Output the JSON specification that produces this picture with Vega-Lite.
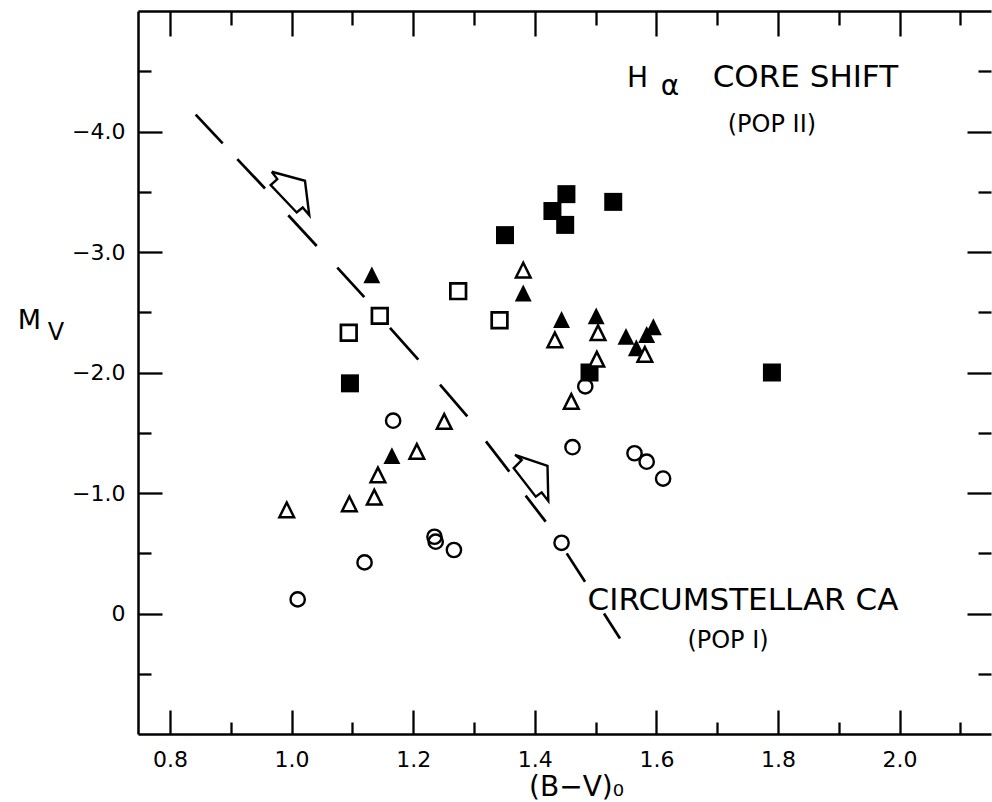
{
  "$schema": "https://vega.github.io/schema/vega-lite/v6.json",
  "width": 853,
  "height": 723,
  "autosize": {"type": "none"},
  "padding": {"left": 138, "top": 11, "right": 1, "bottom": 68},
  "background": "white",
  "config": {"view": {"stroke": null}, "font": "DejaVu Sans", "axis": {"labelFontSize": 22, "labelFont": "DejaVu Sans"}},
  "datasets": {
    "pts": [
      {"bv": 1.096, "mv": -1.91, "type": "fsq"},
      {"bv": 1.351, "mv": -3.14, "type": "fsq"},
      {"bv": 1.429, "mv": -3.34, "type": "fsq"},
      {"bv": 1.452, "mv": -3.48, "type": "fsq"},
      {"bv": 1.450, "mv": -3.225, "type": "fsq"},
      {"bv": 1.529, "mv": -3.416, "type": "fsq"},
      {"bv": 1.490, "mv": -2.00, "type": "fsq"},
      {"bv": 1.790, "mv": -2.00, "type": "fsq"},
      {"bv": 1.132, "mv": -2.81, "type": "ftri"},
      {"bv": 1.381, "mv": -2.66, "type": "ftri"},
      {"bv": 1.444, "mv": -2.44, "type": "ftri"},
      {"bv": 1.501, "mv": -2.47, "type": "ftri"},
      {"bv": 1.550, "mv": -2.30, "type": "ftri"},
      {"bv": 1.567, "mv": -2.205, "type": "ftri"},
      {"bv": 1.584, "mv": -2.315, "type": "ftri"},
      {"bv": 1.595, "mv": -2.38, "type": "ftri"},
      {"bv": 1.165, "mv": -1.31, "type": "ftri"},
      {"bv": 1.094, "mv": -2.33, "type": "osq"},
      {"bv": 1.145, "mv": -2.47, "type": "osq"},
      {"bv": 1.274, "mv": -2.675, "type": "osq"},
      {"bv": 1.342, "mv": -2.434, "type": "osq"},
      {"bv": 1.381, "mv": -2.85, "type": "otri"},
      {"bv": 1.433, "mv": -2.27, "type": "otri"},
      {"bv": 1.504, "mv": -2.33, "type": "otri"},
      {"bv": 1.502, "mv": -2.11, "type": "otri"},
      {"bv": 1.581, "mv": -2.15, "type": "otri"},
      {"bv": 1.460, "mv": -1.76, "type": "otri"},
      {"bv": 1.251, "mv": -1.594, "type": "otri"},
      {"bv": 1.206, "mv": -1.345, "type": "otri"},
      {"bv": 1.142, "mv": -1.15, "type": "otri"},
      {"bv": 1.136, "mv": -0.965, "type": "otri"},
      {"bv": 1.095, "mv": -0.91, "type": "otri"},
      {"bv": 0.992, "mv": -0.86, "type": "otri"},
      {"bv": 1.167, "mv": -1.60, "type": "ocir"},
      {"bv": 1.483, "mv": -1.885, "type": "ocir"},
      {"bv": 1.462, "mv": -1.38, "type": "ocir"},
      {"bv": 1.564, "mv": -1.33, "type": "ocir"},
      {"bv": 1.584, "mv": -1.26, "type": "ocir"},
      {"bv": 1.611, "mv": -1.12, "type": "ocir"},
      {"bv": 1.235, "mv": -0.637, "type": "ocir"},
      {"bv": 1.237, "mv": -0.596, "type": "ocir"},
      {"bv": 1.267, "mv": -0.527, "type": "ocir"},
      {"bv": 1.444, "mv": -0.587, "type": "ocir"},
      {"bv": 1.010, "mv": -0.117, "type": "ocir"},
      {"bv": 1.120, "mv": -0.424, "type": "ocir"}
    ],
    "dash": [
      {"bv": 0.8423, "mv": -4.140, "bv2": 0.8867, "mv2": -3.902},
      {"bv": 0.9107, "mv": -3.771, "bv2": 0.9563, "mv2": -3.527},
      {"bv": 0.9946, "mv": -3.305, "bv2": 1.0413, "mv2": -3.050},
      {"bv": 1.0752, "mv": -2.870, "bv2": 1.1196, "mv2": -2.626},
      {"bv": 1.1618, "mv": -2.371, "bv2": 1.2084, "mv2": -2.107},
      {"bv": 1.2441, "mv": -1.899, "bv2": 1.2890, "mv2": -1.636},
      {"bv": 1.3197, "mv": -1.428, "bv2": 1.3581, "mv2": -1.178},
      {"bv": 1.3850, "mv": -0.978, "bv2": 1.4179, "mv2": -0.762},
      {"bv": 1.4525, "mv": -0.499, "bv2": 1.4826, "mv2": -0.263},
      {"bv": 1.5138, "mv": 0.000, "bv2": 1.5401, "mv2": 0.208}
    ],
    "arrow": [
      {"arrow": "a1", "i": 0, "bv": 0.9673, "mv": -3.666},
      {"arrow": "a1", "i": 1, "bv": 1.0220, "mv": -3.591},
      {"arrow": "a1", "i": 2, "bv": 1.0291, "mv": -3.305},
      {"arrow": "a1", "i": 3, "bv": 1.0183, "mv": -3.369},
      {"arrow": "a1", "i": 4, "bv": 1.0084, "mv": -3.328},
      {"arrow": "a1", "i": 5, "bv": 0.9656, "mv": -3.555},
      {"arrow": "a1", "i": 6, "bv": 0.9765, "mv": -3.605},
      {"arrow": "a1", "i": 7, "bv": 0.9673, "mv": -3.666},
      {"arrow": "a2", "i": 0, "bv": 1.3674, "mv": -1.317},
      {"arrow": "a2", "i": 1, "bv": 1.4209, "mv": -1.225},
      {"arrow": "a2", "i": 2, "bv": 1.4222, "mv": -0.934},
      {"arrow": "a2", "i": 3, "bv": 1.4113, "mv": -1.005},
      {"arrow": "a2", "i": 4, "bv": 1.4016, "mv": -0.970},
      {"arrow": "a2", "i": 5, "bv": 1.3653, "mv": -1.206},
      {"arrow": "a2", "i": 6, "bv": 1.3784, "mv": -1.273},
      {"arrow": "a2", "i": 7, "bv": 1.3674, "mv": -1.317}
    ]
  },
  "layer": [
    {
      "layer": [
        {
          "data": {"name": "pts"},
          "transform": [{"filter": "datum.type == 'fsq'"}],
          "mark": {"type": "point", "shape": "square", "filled": true, "fill": "black", "strokeWidth": 0, "size": 324, "opacity": 1},
          "encoding": {
            "x": {
              "field": "bv", "type": "quantitative",
              "scale": {"domain": [0.7474, 2.1503], "nice": false, "zero": false},
              "axis": {
                "orient": "bottom",
                "values": [0.8, 0.9, 1.0, 1.1, 1.2, 1.3, 1.4, 1.5, 1.6, 1.7, 1.8, 1.9, 2.0, 2.1],
                "grid": false,
                "domainColor": "black", "domainWidth": 2.5,
                "tickColor": "black", "tickWidth": 2.3,
                "tickSize": {"condition": {"test": "round(datum.value*10) % 2 == 0", "value": -24}, "value": -12},
                "labelExpr": "round(datum.value*10) % 2 == 0 ? format(datum.value, '.1f') : ''",
                "labelFont": "DejaVu Sans", "labelFontSize": 22, "labelColor": "black",
                "labelPadding": 39, "labelFlush": false, "labelOverlap": false,
                "title": "(B−V)₀",
                "titleFont": "DejaVu Sans", "titleFontSize": 28, "titleFontWeight": "normal", "titleColor": "black",
                "titleX": 438, "titleY": 61, "titleAlign": "center", "titleBaseline": "alphabetic"
              }
            },
            "y": {
              "field": "mv", "type": "quantitative",
              "scale": {"domain": [-5, 1], "reverse": true, "nice": false, "zero": false},
              "axis": {
                "orient": "left",
                "values": [-4.5, -4, -3.5, -3, -2.5, -2, -1.5, -1, -0.5, 0, 0.5],
                "grid": false,
                "domainColor": "black", "domainWidth": 2.5,
                "tickColor": "black", "tickWidth": 2.3,
                "tickSize": {"condition": {"test": "datum.value % 1 == 0", "value": -24}, "value": -13},
                "labelExpr": "datum.value % 1 != 0 ? '' : (datum.value == 0 ? '0' : '−' + format(-datum.value, '.1f'))",
                "labelFont": "DejaVu Sans", "labelFontSize": 22, "labelColor": "black",
                "labelPadding": 37, "labelFlush": false, "labelOverlap": false,
                "title": "M", "titleAngle": 0,
                "titleFont": "DejaVu Sans", "titleFontSize": 27, "titleFontWeight": "normal", "titleColor": "black",
                "titleX": -109, "titleY": 317, "titleAlign": "center", "titleBaseline": "alphabetic"
              }
            }
          }
        },
        {
          "data": {"name": "pts"},
          "transform": [{"filter": "datum.type == 'ftri'"}],
          "mark": {"type": "point", "shape": "M0,-1L-1,1L1,1Z", "filled": true, "fill": "black", "strokeWidth": 0, "size": 285, "opacity": 1},
          "encoding": {"x": {"field": "bv", "type": "quantitative"}, "y": {"field": "mv", "type": "quantitative"}}
        },
        {
          "data": {"name": "pts"},
          "transform": [{"filter": "datum.type == 'osq'"}],
          "mark": {"type": "point", "shape": "square", "filled": false, "fill": "white", "stroke": "black", "strokeWidth": 2.7, "size": 245, "opacity": 1, "fillOpacity": 1},
          "encoding": {"x": {"field": "bv", "type": "quantitative"}, "y": {"field": "mv", "type": "quantitative"}}
        },
        {
          "data": {"name": "pts"},
          "transform": [{"filter": "datum.type == 'otri'"}],
          "mark": {"type": "point", "shape": "M0,-1L-1,1L1,1Z", "filled": false, "fill": "white", "stroke": "black", "strokeWidth": 2.5, "size": 215, "opacity": 1, "fillOpacity": 1},
          "encoding": {"x": {"field": "bv", "type": "quantitative"}, "y": {"field": "mv", "type": "quantitative"}}
        },
        {
          "data": {"name": "pts"},
          "transform": [{"filter": "datum.type == 'ocir'"}],
          "mark": {"type": "point", "shape": "circle", "filled": false, "stroke": "black", "strokeWidth": 2.4, "size": 205, "opacity": 1},
          "encoding": {"x": {"field": "bv", "type": "quantitative"}, "y": {"field": "mv", "type": "quantitative"}}
        },
        {
          "data": {"name": "dash"},
          "mark": {"type": "rule", "color": "black", "strokeWidth": 2.7, "strokeCap": "butt"},
          "encoding": {
            "x": {"field": "bv", "type": "quantitative"},
            "y": {"field": "mv", "type": "quantitative"},
            "x2": {"field": "bv2"},
            "y2": {"field": "mv2"}
          }
        },
        {
          "data": {"name": "arrow"},
          "mark": {"type": "line", "color": "black", "strokeWidth": 2.4, "strokeJoin": "miter"},
          "encoding": {
            "x": {"field": "bv", "type": "quantitative"},
            "y": {"field": "mv", "type": "quantitative"},
            "detail": {"field": "arrow"},
            "order": {"field": "i", "type": "quantitative"}
          }
        },
        {
          "data": {"values": [{"bv": 1.569, "mv": -4.367, "txt": "H"}]},
          "mark": {"type": "text", "font": "DejaVu Sans", "fontSize": 28, "align": "center", "baseline": "alphabetic", "color": "black"},
          "encoding": {"x": {"field": "bv", "type": "quantitative"}, "y": {"field": "mv", "type": "quantitative"}, "text": {"field": "txt"}}
        },
        {
          "data": {"values": [{"bv": 1.6224, "mv": -4.303, "txt": "α"}]},
          "mark": {"type": "text", "font": "DejaVu Sans", "fontSize": 28, "align": "center", "baseline": "alphabetic", "color": "black"},
          "encoding": {"x": {"field": "bv", "type": "quantitative"}, "y": {"field": "mv", "type": "quantitative"}, "text": {"field": "txt"}}
        },
        {
          "data": {"values": [{"bv": 1.845, "mv": -4.367, "txt": "CORE SHIFT"}]},
          "mark": {"type": "text", "font": "DejaVu Sans", "fontSize": 31, "align": "center", "baseline": "alphabetic", "color": "black"},
          "encoding": {"x": {"field": "bv", "type": "quantitative"}, "y": {"field": "mv", "type": "quantitative"}, "text": {"field": "txt"}}
        },
        {
          "data": {"values": [{"bv": 1.790, "mv": -3.998, "txt": "(POP II)"}, {"bv": 1.7178, "mv": 0.289, "txt": "(POP I)"}]},
          "mark": {"type": "text", "font": "DejaVu Sans", "fontSize": 24, "align": "center", "baseline": "alphabetic", "color": "black"},
          "encoding": {"x": {"field": "bv", "type": "quantitative"}, "y": {"field": "mv", "type": "quantitative"}, "text": {"field": "txt"}}
        },
        {
          "data": {"values": [{"bv": 1.7424, "mv": -0.029, "txt": "CIRCUMSTELLAR CA"}]},
          "mark": {"type": "text", "font": "DejaVu Sans", "fontSize": 31, "align": "center", "baseline": "alphabetic", "color": "black"},
          "encoding": {"x": {"field": "bv", "type": "quantitative"}, "y": {"field": "mv", "type": "quantitative"}, "text": {"field": "txt"}}
        },
        {
          "data": {"values": [{"bv": 0.6125, "mv": -2.27, "txt": "V"}]},
          "mark": {"type": "text", "font": "DejaVu Sans", "fontSize": 24, "align": "center", "baseline": "alphabetic", "color": "black"},
          "encoding": {"x": {"field": "bv", "type": "quantitative"}, "y": {"field": "mv", "type": "quantitative"}, "text": {"field": "txt"}}
        }
      ]
    },
    {
      "data": {"name": "pts"},
      "mark": {"type": "point", "opacity": 0},
      "encoding": {
        "x": {
          "field": "bv", "type": "quantitative",
          "scale": {"domain": [0.7474, 2.1503], "nice": false, "zero": false},
          "axis": {
            "orient": "top",
            "values": [0.8, 0.9, 1.0, 1.1, 1.2, 1.3, 1.4, 1.5, 1.6, 1.7, 1.8, 1.9, 2.0, 2.1],
            "grid": false, "labels": false, "title": null,
            "domainColor": "black", "domainWidth": 2.5,
            "tickColor": "black", "tickWidth": 2.3,
            "tickSize": {"condition": {"test": "round(datum.value*10) % 2 == 0", "value": -25}, "value": -14}
          }
        },
        "y": {
          "field": "mv", "type": "quantitative",
          "scale": {"domain": [-5, 1], "reverse": true, "nice": false, "zero": false},
          "axis": {
            "orient": "right",
            "values": [-4.5, -4, -3.5, -3, -2.5, -2, -1.5, -1, -0.5, 0, 0.5],
            "grid": false, "labels": false, "title": null, "domain": false,
            "tickColor": "black", "tickWidth": 2.3,
            "tickSize": {"condition": {"test": "datum.value % 1 == 0", "value": -24}, "value": -13}
          }
        }
      }
    }
  ],
  "resolve": {"axis": {"x": "independent", "y": "independent"}}
}
